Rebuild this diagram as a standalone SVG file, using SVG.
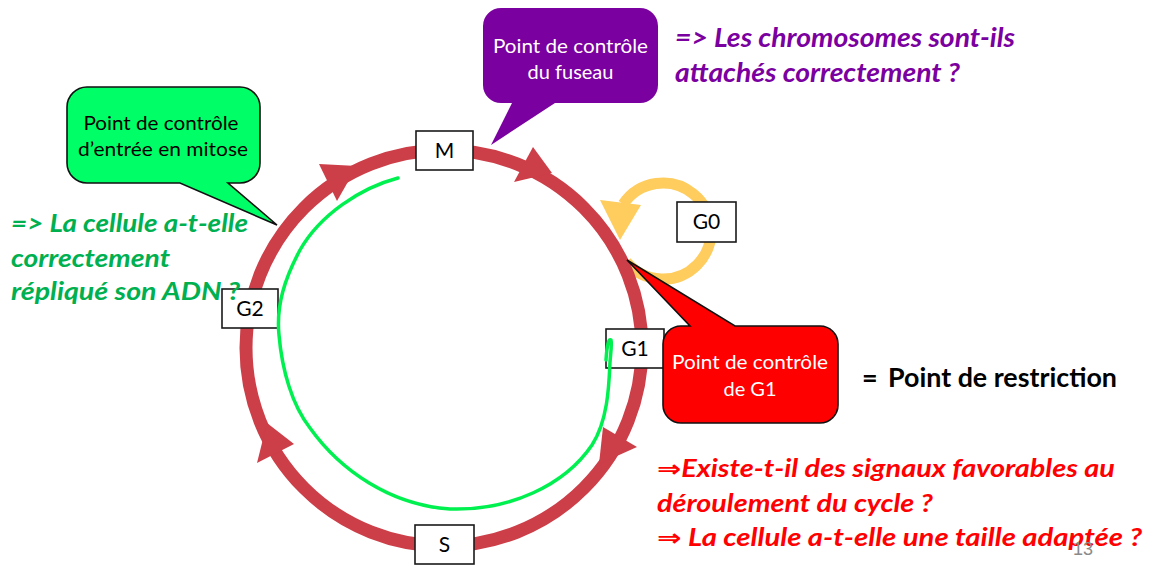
<svg xmlns="http://www.w3.org/2000/svg" width="1172" height="586" viewBox="0 0 1172 586">
<style>
.lbl{font-family:Lato,"Liberation Sans",sans-serif;font-size:21px;fill:#000;text-anchor:middle}
.box{fill:#fff;stroke:#1a1a1a;stroke-width:1.6}
.ct{font-family:Lato,"Liberation Sans",sans-serif;font-size:20px;text-anchor:middle}
.q{font-family:Lato,"Liberation Sans","DejaVu Sans",sans-serif;font-weight:bold;font-style:italic}
.ring{fill:none;stroke:#CC3E48;stroke-width:13}
.head{fill:#CC3E48}
</style>
<rect width="1172" height="586" fill="#fff"/>

<g id="connectors">
  <path id="g0-loop" d="M 626.2,261.9 A 48 48 0 1 0 623.2,204.2" fill="none" stroke="#FFCC5E" stroke-width="11"/>
  <polygon points="600,200 641,205 620,240" fill="#FFCC5E"/>
  <circle class="ring" cx="444" cy="348" r="198"/>
  <polygon class="head" points="319,164 337,201 357,166"/>
  <polygon class="head" points="533,147 514,182 552,173"/>
  <polygon class="head" points="603,427 637,447 599,464"/>
  <polygon class="head" points="294,444 257,463 267,423"/>
</g>

<g id="node-M"><rect class="box" x="416" y="131" width="57" height="39"/><text class="lbl" x="444.5" y="158">M</text></g>
<g id="node-G1"><rect class="box" x="606" y="329" width="58" height="39"/><text class="lbl" x="635" y="356">G1</text></g>
<g id="node-S"><rect class="box" x="415" y="525" width="59" height="39"/><text class="lbl" x="444.5" y="552">S</text></g>
<g id="node-G2"><rect class="box" x="222" y="289" width="56" height="39"/><text class="lbl" x="250" y="316">G2</text></g>
<g id="node-G0"><rect class="box" x="677" y="202" width="59" height="40"/><text class="lbl" x="706.5" y="229">G0</text></g>

<g id="callout-fuseau">
  <path d="M 501,8 H 640 A 18 18 0 0 1 658,26 V 85 A 18 18 0 0 1 640,103 H 555 L 491,145 L 512,103 H 501 A 18 18 0 0 1 483,85 V 26 A 18 18 0 0 1 501,8 Z" fill="#7B00A0"/>
  <text class="ct" x="570.5" y="53" fill="#fff" textLength="155" lengthAdjust="spacingAndGlyphs">Point de contrôle</text>
  <text class="ct" x="570.5" y="79" fill="#fff">du fuseau</text>
</g>

<g id="callout-mitose">
  <path d="M 87,87 H 240 A 20 20 0 0 1 260,107 V 163 A 20 20 0 0 1 240,183 H 228 L 277,225 L 180,183 H 87 A 20 20 0 0 1 67,163 V 107 A 20 20 0 0 1 87,87 Z" fill="#00FF66" stroke="#111" stroke-width="1.6"/>
  <text class="ct" x="161" y="130" fill="#000" textLength="155" lengthAdjust="spacingAndGlyphs">Point de contrôle</text>
  <text class="ct" x="163" y="156" fill="#000" textLength="170" lengthAdjust="spacingAndGlyphs">d’entrée en mitose</text>
</g>

<g id="callout-g1">
  <path d="M 681,326 H 690 L 627,260 L 735,326 H 820 A 18 18 0 0 1 838,344 V 405 A 18 18 0 0 1 820,423 H 681 A 18 18 0 0 1 663,405 V 344 A 18 18 0 0 1 681,326 Z" fill="#FF0000" stroke="#111" stroke-width="1.6"/>
  <text class="ct" x="750" y="369" fill="#fff" textLength="156" lengthAdjust="spacingAndGlyphs">Point de contrôle</text>
  <text class="ct" x="750" y="396" fill="#fff">de G1</text>
</g>

<g id="green-trace">
  <path d="M 398,178 C 360,188 320,215 300,250 C 285,278 276,305 279,335 C 282,370 292,405 310,428 C 340,470 390,505 450,509 C 510,511 565,485 592,445 C 608,420 609,385 610,362 C 611,350 612,343 611,340 C 609,338 607,344 606,360" fill="none" stroke="#00F050" stroke-width="3.5" stroke-linecap="round" stroke-linejoin="round"/>
</g>

<g id="text-fuseau" class="q" fill="#7B00A0" font-size="26">
  <text x="675" y="47" textLength="340" lengthAdjust="spacingAndGlyphs">=&gt; Les chromosomes sont-ils</text>
  <text x="675" y="82" textLength="285" lengthAdjust="spacingAndGlyphs">attachés correctement ?</text>
</g>

<g id="text-mitose" class="q" fill="#00B050" font-size="25">
  <text x="11" y="232" textLength="237" lengthAdjust="spacingAndGlyphs">=&gt; La cellule a-t-elle</text>
  <text x="11" y="267" textLength="159" lengthAdjust="spacingAndGlyphs">correctement</text>
  <text x="11" y="300" textLength="229" lengthAdjust="spacingAndGlyphs">répliqué son ADN ?</text>
</g>

<g id="text-restriction">
  <text x="862" y="387" font-family="Lato,'Liberation Sans',sans-serif" font-weight="bold" font-size="27" fill="#000">= <tspan x="888" textLength="229" lengthAdjust="spacingAndGlyphs">Point de restriction</tspan></text>
</g>

<g id="text-g1" class="q" fill="#FF0000" font-size="24">
  <text x="657" y="477" textLength="458" lengthAdjust="spacingAndGlyphs">⇒Existe-t-il des signaux favorables au</text>
  <text x="657" y="512" textLength="276" lengthAdjust="spacingAndGlyphs">déroulement du cycle ?</text>
  <text x="657" y="546" textLength="485" lengthAdjust="spacingAndGlyphs">⇒ La cellule a-t-elle une taille adaptée ?</text>
</g>

<text x="1073" y="555" font-family="'Liberation Sans',Arial,sans-serif" font-size="18" fill="#8a8a8a">13</text>
</svg>
